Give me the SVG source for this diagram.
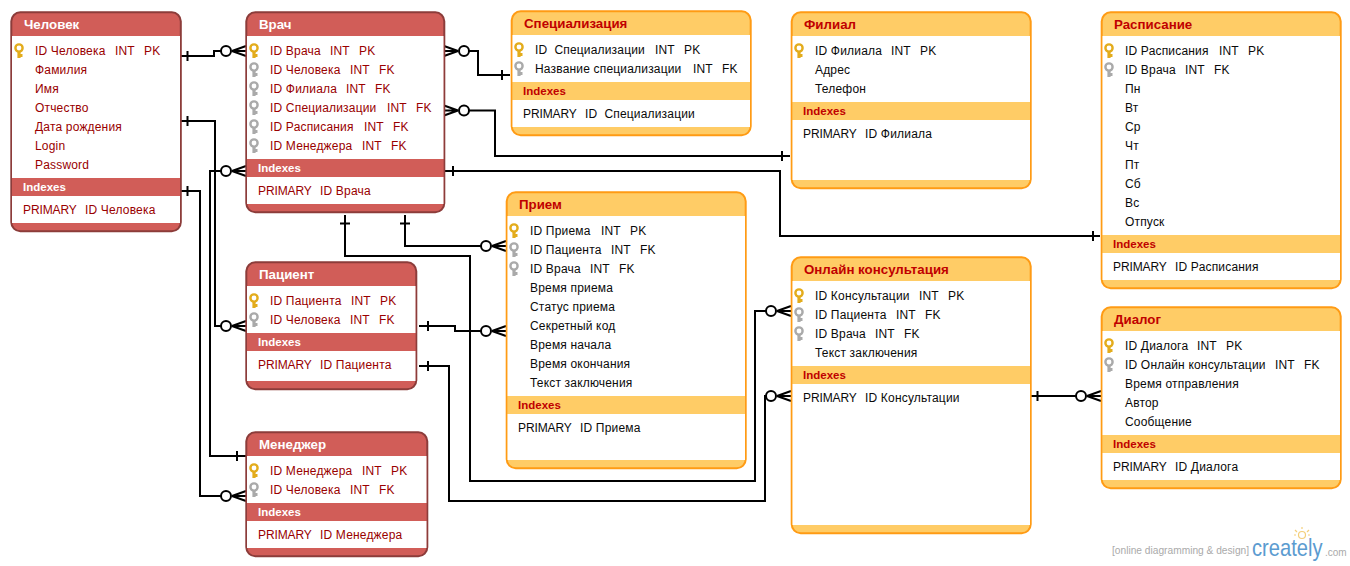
<svg xmlns="http://www.w3.org/2000/svg" width="1350" height="566" viewBox="0 0 1350 566">
<style>
text{font-family:"Liberation Sans",Arial,sans-serif;font-size:12px;white-space:pre}
.t{letter-spacing:.18px}
.p{letter-spacing:-.1px}
.r .card{fill:#d15d58;stroke:#8c3c3a;stroke-width:2}
.o .card{fill:#ffcc66;stroke:#ff9b14;stroke-width:2}
.body{fill:#fff}
.r .band{fill:#d15d58}.o .band{fill:#ffcc66}
.r .t{fill:#990000}.o .t{fill:#0a0a0a}
.title{font-weight:bold;font-size:13.3px}
.idx{font-weight:bold;font-size:11.5px}
.r .title,.r .idx{fill:#fff}
.o .title,.o .idx{fill:#c00000}
.ln{fill:none;stroke:#000;stroke-width:2}
.crow{fill:#fff;stroke:#000;stroke-width:2}
</style>
<defs>
<g id="keyGold"><circle cx="0" cy="-3" r="3.6" fill="#fff" stroke="#e3ac1c" stroke-width="2.4"/><path d="M-1.6 1h3.2v6h-3.2z" fill="#e3ac1c"/><path d="M1 3h2.5v3h-2.5z" fill="#e3ac1c"/></g>
<g id="keyGray"><circle cx="0" cy="-3" r="3.6" fill="#fff" stroke="#aaa" stroke-width="2.4"/><path d="M-1.6 1h3.2v6h-3.2z" fill="#aaa"/><path d="M1 3h2.5v3h-2.5z" fill="#aaa"/></g>
<g id="crowR"><path class="ln" d="M6 0H20M6 0L20-5M6 0L20 5"/><circle class="crow" r="5"/></g>
<g id="crowL"><path class="ln" d="M-6 0H-20M-6 0L-20-5M-6 0L-20 5"/><circle class="crow" r="5"/></g>
</defs>
<rect width="1350" height="566" fill="#fff"/>

<g id="connectors">
<path class="ln" d="M180 56H214V51H221M187.500 51V61"/><use href="#crowR" x="226" y="51"/>
<path class="ln" d="M180 121H215V326H221M187.500 116V126"/><use href="#crowR" x="226" y="326"/>
<path class="ln" d="M180 191H200V496H221M187.500 186V196"/><use href="#crowR" x="226" y="496"/>
<path class="ln" d="M221 171H210V456H246M237 451V461"/><use href="#crowR" x="226" y="171"/>
<path class="ln" d="M469 51H478V75H510M502 70V80"/><use href="#crowL" x="464" y="51"/>
<path class="ln" d="M469 110.500H495V156H790M782 151V161"/><use href="#crowL" x="464" y="110.500"/>
<path class="ln" d="M445 171H780V236H1100M453 166V176M1093 231V241"/>
<path class="ln" d="M405 215V246H481M400 223.500H410"/><use href="#crowR" x="486" y="246"/>
<path class="ln" d="M345 215V256H470V481H755V311H766M340 223.500H350"/><use href="#crowR" x="771" y="311"/>
<path class="ln" d="M419 326H455V331H481M428 321V331"/><use href="#crowR" x="486" y="331"/>
<path class="ln" d="M419 366H449V501H765V396H766M428 361V371"/><use href="#crowR" x="771" y="396"/>
<path class="ln" d="M1029 396H1076M1037.500 391V401"/><use href="#crowR" x="1081" y="396"/>
</g>

<g id="chelovek" class="r">
<rect class="card" x="11.300" y="12.300" width="169.500" height="219" rx="9"/>
<rect class="body" x="12" y="36" width="168" height="142"/><rect class="band" x="12" y="178" width="168" height="18"/><rect class="body" x="12" y="196" width="168" height="27"/>
<text class="title" x="24" y="29">Человек</text>
<use href="#keyGold" x="19" y="51"/>
<text class="t" x="35" y="55">ID Человека<tspan x="115">INT</tspan><tspan x="144">PK</tspan></text>
<text class="t" x="35" y="74">Фамилия</text>
<text class="t" x="35" y="93">Имя</text>
<text class="t" x="35" y="112">Отчество</text>
<text class="t" x="35" y="131">Дата рождения</text>
<text class="t" x="35" y="150">Login</text>
<text class="t" x="35" y="169">Password</text>
<text class="idx" x="23" y="191">Indexes</text>
<text class="t" x="23" y="214"><tspan class="p">PRIMARY</tspan><tspan x="85">ID Человека</tspan></text>
</g>

<g id="vrach" class="r">
<rect class="card" x="246.300" y="12.300" width="198" height="200" rx="9"/>
<rect class="body" x="247" y="36" width="196.500" height="123"/><rect class="band" x="247" y="159" width="196.500" height="18"/><rect class="body" x="247" y="177" width="196.500" height="27"/>
<text class="title" x="259" y="29">Врач</text>
<use href="#keyGold" x="254" y="51"/><use href="#keyGray" x="254" y="70"/><use href="#keyGray" x="254" y="89"/><use href="#keyGray" x="254" y="108"/><use href="#keyGray" x="254" y="127"/><use href="#keyGray" x="254" y="146"/>
<text class="t" x="270" y="55">ID Врача<tspan x="330">INT</tspan><tspan x="359">PK</tspan></text>
<text class="t" x="270" y="74">ID Человека<tspan x="350">INT</tspan><tspan x="379">FK</tspan></text>
<text class="t" x="270" y="93">ID Филиала<tspan x="346">INT</tspan><tspan x="375">FK</tspan></text>
<text class="t" x="270" y="112">ID Специализации<tspan x="387">INT</tspan><tspan x="416">FK</tspan></text>
<text class="t" x="270" y="131">ID Расписания<tspan x="364">INT</tspan><tspan x="393">FK</tspan></text>
<text class="t" x="270" y="150">ID Менеджера<tspan x="362">INT</tspan><tspan x="391">FK</tspan></text>
<text class="idx" x="258" y="172">Indexes</text>
<text class="t" x="258" y="195"><tspan class="p">PRIMARY</tspan><tspan x="320">ID Врача</tspan></text>
</g>

<g id="specializaciya" class="o">
<rect class="card" x="511.700" y="11.300" width="239" height="124" rx="9"/>
<rect class="body" x="512.500" y="35" width="237.500" height="47"/><rect class="band" x="512.500" y="82" width="237.500" height="18"/><rect class="body" x="512.500" y="100" width="237.500" height="27"/>
<text class="title" x="524" y="28">Специализация</text>
<use href="#keyGold" x="519" y="50"/><use href="#keyGray" x="519" y="69"/>
<text class="t" x="535" y="54">ID  Специализации<tspan x="655">INT</tspan><tspan x="684">PK</tspan></text>
<text class="t" x="535" y="73">Название специализации<tspan x="693">INT</tspan><tspan x="722">FK</tspan></text>
<text class="idx" x="523" y="95">Indexes</text>
<text class="t" x="523" y="118"><tspan class="p">PRIMARY</tspan><tspan x="585">ID  Специализации</tspan></text>
</g>

<g id="filial" class="o">
<rect class="card" x="791.700" y="12.300" width="239" height="176" rx="9"/>
<rect class="body" x="792.500" y="36" width="237.500" height="66"/><rect class="band" x="792.500" y="102" width="237.500" height="18"/><rect class="body" x="792.500" y="120" width="237.500" height="60"/>
<text class="title" x="804" y="29">Филиал</text>
<use href="#keyGold" x="799" y="51"/>
<text class="t" x="815" y="55">ID Филиала<tspan x="891">INT</tspan><tspan x="920">PK</tspan></text>
<text class="t" x="815" y="74">Адрес</text>
<text class="t" x="815" y="93">Телефон</text>
<text class="idx" x="803" y="115">Indexes</text>
<text class="t" x="803" y="138"><tspan class="p">PRIMARY</tspan><tspan x="865">ID Филиала</tspan></text>
</g>

<g id="raspisanie" class="o">
<rect class="card" x="1101.700" y="12.300" width="239" height="276" rx="9"/>
<rect class="body" x="1102.500" y="36" width="237.500" height="199"/><rect class="band" x="1102.500" y="235" width="237.500" height="18"/><rect class="body" x="1102.500" y="253" width="237.500" height="27"/>
<text class="title" x="1114" y="29">Расписание</text>
<use href="#keyGold" x="1109" y="51"/><use href="#keyGray" x="1109" y="70"/>
<text class="t" x="1125" y="55">ID Расписания<tspan x="1219">INT</tspan><tspan x="1248">PK</tspan></text>
<text class="t" x="1125" y="74">ID Врача<tspan x="1185">INT</tspan><tspan x="1214">FK</tspan></text>
<text class="t" x="1125" y="93">Пн</text>
<text class="t" x="1125" y="112">Вт</text>
<text class="t" x="1125" y="131">Ср</text>
<text class="t" x="1125" y="150">Чт</text>
<text class="t" x="1125" y="169">Пт</text>
<text class="t" x="1125" y="188">Сб</text>
<text class="t" x="1125" y="207">Вс</text>
<text class="t" x="1125" y="226">Отпуск</text>
<text class="idx" x="1113" y="248">Indexes</text>
<text class="t" x="1113" y="271"><tspan class="p">PRIMARY</tspan><tspan x="1175">ID Расписания</tspan></text>
</g>

<g id="priem" class="o">
<rect class="card" x="506.700" y="192.300" width="239" height="276" rx="9"/>
<rect class="body" x="507.500" y="216" width="237.500" height="180"/><rect class="band" x="507.500" y="396" width="237.500" height="18"/><rect class="body" x="507.500" y="414" width="237.500" height="46"/>
<text class="title" x="519" y="209">Прием</text>
<use href="#keyGold" x="514" y="231"/><use href="#keyGray" x="514" y="250"/><use href="#keyGray" x="514" y="269"/>
<text class="t" x="530" y="235">ID Приема<tspan x="601">INT</tspan><tspan x="630">PK</tspan></text>
<text class="t" x="530" y="254">ID Пациента<tspan x="611">INT</tspan><tspan x="640">FK</tspan></text>
<text class="t" x="530" y="273">ID Врача<tspan x="590">INT</tspan><tspan x="619">FK</tspan></text>
<text class="t" x="530" y="292">Время приема</text>
<text class="t" x="530" y="311">Статус приема</text>
<text class="t" x="530" y="330">Секретный код</text>
<text class="t" x="530" y="349">Время начала</text>
<text class="t" x="530" y="368">Время окончания</text>
<text class="t" x="530" y="387">Текст заключения</text>
<text class="idx" x="518" y="409">Indexes</text>
<text class="t" x="518" y="432"><tspan class="p">PRIMARY</tspan><tspan x="580">ID Приема</tspan></text>
</g>

<g id="online" class="o">
<rect class="card" x="791.700" y="257.300" width="239" height="276" rx="9"/>
<rect class="body" x="792.500" y="281" width="237.500" height="85"/><rect class="band" x="792.500" y="366" width="237.500" height="18"/><rect class="body" x="792.500" y="384" width="237.500" height="141"/>
<text class="title" x="804" y="274">Онлайн консультация</text>
<use href="#keyGold" x="799" y="296"/><use href="#keyGray" x="799" y="315"/><use href="#keyGray" x="799" y="334"/>
<text class="t" x="815" y="300">ID Консультации<tspan x="919">INT</tspan><tspan x="948">PK</tspan></text>
<text class="t" x="815" y="319">ID Пациента<tspan x="896">INT</tspan><tspan x="925">FK</tspan></text>
<text class="t" x="815" y="338">ID Врача<tspan x="875">INT</tspan><tspan x="904">FK</tspan></text>
<text class="t" x="815" y="357">Текст заключения</text>
<text class="idx" x="803" y="379">Indexes</text>
<text class="t" x="803" y="402"><tspan class="p">PRIMARY</tspan><tspan x="865">ID Консультации</tspan></text>
</g>

<g id="dialog" class="o">
<rect class="card" x="1101.700" y="307.300" width="239" height="181" rx="9"/>
<rect class="body" x="1102.500" y="331" width="237.500" height="104"/><rect class="band" x="1102.500" y="435" width="237.500" height="18"/><rect class="body" x="1102.500" y="453" width="237.500" height="27"/>
<text class="title" x="1114" y="324">Диалог</text>
<use href="#keyGold" x="1109" y="346"/><use href="#keyGray" x="1109" y="365"/>
<text class="t" x="1125" y="350">ID Диалога<tspan x="1197">INT</tspan><tspan x="1226">PK</tspan></text>
<text class="t" x="1125" y="369">ID Онлайн консультации<tspan x="1275">INT</tspan><tspan x="1304">FK</tspan></text>
<text class="t" x="1125" y="388">Время отправления</text>
<text class="t" x="1125" y="407">Автор</text>
<text class="t" x="1125" y="426">Сообщение</text>
<text class="idx" x="1113" y="448">Indexes</text>
<text class="t" x="1113" y="471"><tspan class="p">PRIMARY</tspan><tspan x="1175">ID Диалога</tspan></text>
</g>

<g id="pacient" class="r">
<rect class="card" x="246.300" y="262.300" width="170" height="127" rx="9"/>
<rect class="body" x="247" y="286" width="168.500" height="47"/><rect class="band" x="247" y="333" width="168.500" height="18"/><rect class="body" x="247" y="351" width="168.500" height="30"/>
<text class="title" x="259" y="279">Пациент</text>
<use href="#keyGold" x="254" y="301"/><use href="#keyGray" x="254" y="320"/>
<text class="t" x="270" y="305">ID Пациента<tspan x="351">INT</tspan><tspan x="380">PK</tspan></text>
<text class="t" x="270" y="324">ID Человека<tspan x="350">INT</tspan><tspan x="379">FK</tspan></text>
<text class="idx" x="258" y="346">Indexes</text>
<text class="t" x="258" y="369"><tspan class="p">PRIMARY</tspan><tspan x="320">ID Пациента</tspan></text>
</g>

<g id="menedzher" class="r">
<rect class="card" x="246.300" y="432.300" width="181" height="124" rx="9"/>
<rect class="body" x="247" y="456" width="179.500" height="47"/><rect class="band" x="247" y="503" width="179.500" height="18"/><rect class="body" x="247" y="521" width="179.500" height="27"/>
<text class="title" x="259" y="449">Менеджер</text>
<use href="#keyGold" x="254" y="471"/><use href="#keyGray" x="254" y="490"/>
<text class="t" x="270" y="475">ID Менеджера<tspan x="362">INT</tspan><tspan x="391">PK</tspan></text>
<text class="t" x="270" y="494">ID Человека<tspan x="350">INT</tspan><tspan x="379">FK</tspan></text>
<text class="idx" x="258" y="516">Indexes</text>
<text class="t" x="258" y="539"><tspan class="p">PRIMARY</tspan><tspan x="320">ID Менеджера</tspan></text>
</g>

<g id="logo">
<text x="1112" y="554" style="font-size:10.200px;fill:#aaa">[online diagramming &amp; design]</text>
<text transform="translate(1252 556) scale(.84 1)" style="font-size:24px;fill:#5b9bd0">creately</text>
<text x="1325" y="556" style="font-size:10px;fill:#aaa">.com</text>
<g fill="none" stroke="#f4cf7a" stroke-width="1.200"><circle cx="1302" cy="535" r="3.500"/><path d="M1302 527V529M1295 530L1297 532M1309 530L1307 532M1294 535H1296M1308 535H1310"/></g>
</g>
</svg>
